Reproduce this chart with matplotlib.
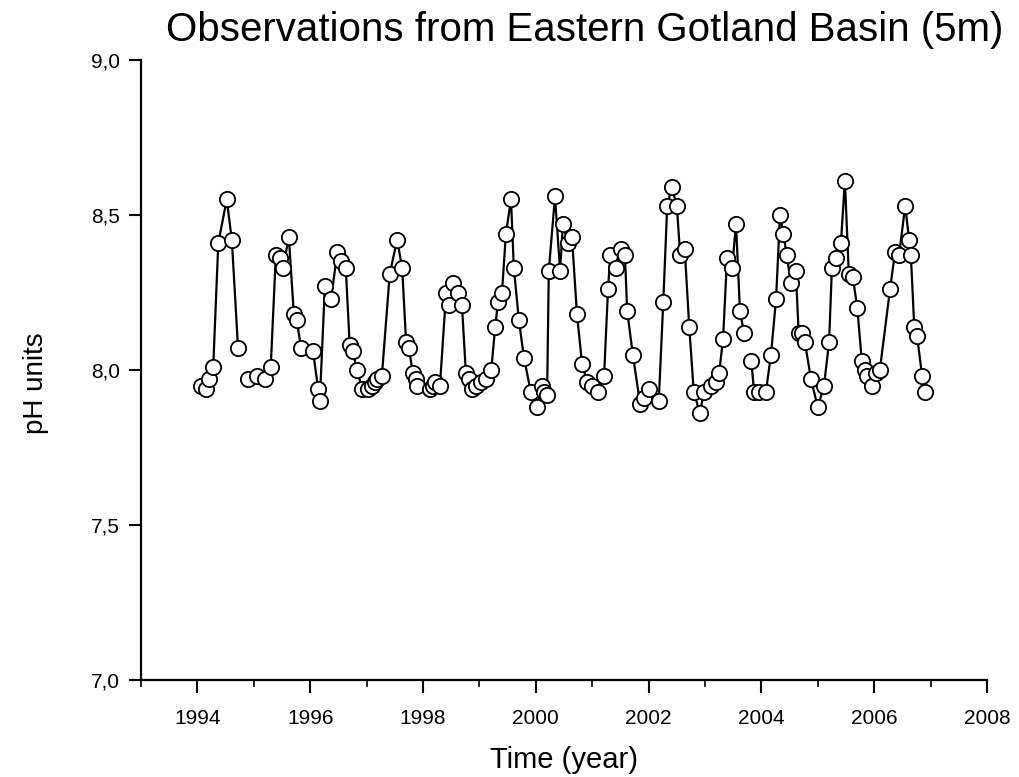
import numpy as np
import matplotlib.pyplot as plt
from matplotlib.ticker import MultipleLocator, FuncFormatter

plt.rcParams['font.family'] = ['Liberation Sans', 'DejaVu Sans']

# Sampling times (decimal year) and surface pH, Eastern Gotland Basin, 5 m
time_year = [
    1994.06, 1994.15, 1994.20, 1994.28, 1994.37, 1994.52, 1994.61, 1994.72,
    1994.90, 1995.06, 1995.20, 1995.30, 1995.39, 1995.46, 1995.52, 1995.62,
    1995.71, 1995.76, 1995.84, 1996.05, 1996.14, 1996.17, 1996.26, 1996.37,
    1996.48, 1996.55, 1996.63, 1996.70, 1996.75, 1996.83, 1996.92, 1997.02,
    1997.10, 1997.15, 1997.19, 1997.27, 1997.41, 1997.54, 1997.63, 1997.70,
    1997.75, 1997.82, 1997.87, 1997.90, 1998.12, 1998.17, 1998.21, 1998.30,
    1998.41, 1998.46, 1998.53, 1998.62, 1998.69, 1998.76, 1998.82, 1998.87,
    1998.94, 1999.02, 1999.12, 1999.21, 1999.28, 1999.33, 1999.40, 1999.47,
    1999.56, 1999.61, 1999.70, 1999.79, 1999.91, 2000.02, 2000.11, 2000.15,
    2000.20, 2000.23, 2000.34, 2000.43, 2000.48, 2000.57, 2000.64, 2000.73,
    2000.82, 2000.91, 2001.00, 2001.10, 2001.21, 2001.28, 2001.32, 2001.42,
    2001.51, 2001.58, 2001.62, 2001.72, 2001.85, 2001.92, 2002.01, 2002.18,
    2002.26, 2002.33, 2002.41, 2002.50, 2002.56, 2002.64, 2002.72, 2002.80,
    2002.91, 2002.98, 2003.10, 2003.20, 2003.25, 2003.32, 2003.39, 2003.48,
    2003.55, 2003.62, 2003.69, 2003.82, 2003.87, 2003.96, 2004.08, 2004.17,
    2004.26, 2004.33, 2004.39, 2004.45, 2004.52, 2004.61, 2004.66, 2004.72,
    2004.77, 2004.88, 2005.00, 2005.11, 2005.20, 2005.25, 2005.32, 2005.41,
    2005.48, 2005.55, 2005.62, 2005.70, 2005.78, 2005.83, 2005.88, 2005.96,
    2006.03, 2006.10, 2006.28, 2006.37, 2006.44, 2006.55, 2006.62, 2006.65,
    2006.71, 2006.76, 2006.85, 2006.90,
]
ph = [
    7.95, 7.94, 7.97, 8.01, 8.41, 8.55, 8.42, 8.07,
    7.97, 7.98, 7.97, 8.01, 8.37, 8.36, 8.33, 8.43,
    8.18, 8.16, 8.07, 8.06, 7.94, 7.90, 8.27, 8.23,
    8.38, 8.35, 8.33, 8.08, 8.06, 8.00, 7.94, 7.94,
    7.95, 7.96, 7.97, 7.98, 8.31, 8.42, 8.33, 8.09,
    8.07, 7.99, 7.97, 7.95, 7.94, 7.95, 7.96, 7.95,
    8.25, 8.21, 8.28, 8.25, 8.21, 7.99, 7.97, 7.94,
    7.95, 7.96, 7.97, 8.00, 8.14, 8.22, 8.25, 8.44,
    8.55, 8.33, 8.16, 8.04, 7.93, 7.88, 7.95, 7.93,
    7.92, 8.32, 8.56, 8.32, 8.47, 8.41, 8.43, 8.18,
    8.02, 7.96, 7.95, 7.93, 7.98, 8.26, 8.37, 8.33,
    8.39, 8.37, 8.19, 8.05, 7.89, 7.91, 7.94, 7.90,
    8.22, 8.53, 8.59, 8.53, 8.37, 8.39, 8.14, 7.93,
    7.86, 7.93, 7.95, 7.96, 7.99, 8.10, 8.36, 8.33,
    8.47, 8.19, 8.12, 8.03, 7.93, 7.93, 7.93, 8.05,
    8.23, 8.50, 8.44, 8.37, 8.28, 8.32, 8.12, 8.12,
    8.09, 7.97, 7.88, 7.95, 8.09, 8.33, 8.36, 8.41,
    8.61, 8.31, 8.30, 8.20, 8.03, 8.00, 7.98, 7.95,
    7.99, 8.00, 8.26, 8.38, 8.37, 8.53, 8.42, 8.37,
    8.14, 8.11, 7.98, 7.93,
]
# cruises after which the series has a gap (line not drawn across)
gap_after = [1994.72, 2003.69]

t = np.array(time_year)
y = np.array(ph)
idx = [int(np.argmin(np.abs(t - g))) + 1 for g in gap_after]
t_line = np.insert(t, idx, np.nan)
y_line = np.insert(y, idx, np.nan)

fig = plt.figure(figsize=(10.19, 7.77), dpi=100)
ax = fig.add_axes([0.1384, 0.1248, 0.8302, 0.798])

ax.plot(t_line, y_line, color='black', linewidth=1.6, zorder=2)
ax.plot(t, y, linestyle='none', marker='o', markersize=11,
        markerfacecolor='white', markeredgecolor='black',
        markeredgewidth=1.3, zorder=3)

ax.set_xlim(1993, 2008)
ax.set_ylim(7.0, 9.0)

ax.spines['top'].set_visible(False)
ax.spines['right'].set_visible(False)
ax.spines['left'].set_linewidth(1.6)
ax.spines['bottom'].set_linewidth(1.6)

ax.xaxis.set_major_locator(MultipleLocator(2))
ax.xaxis.set_major_formatter(FuncFormatter(lambda v, p: f"{int(v)}" if v >= 1994 else ""))
ax.xaxis.set_minor_locator(MultipleLocator(1))
ax.yaxis.set_major_locator(MultipleLocator(0.5))
ax.yaxis.set_major_formatter(FuncFormatter(lambda v, p: f"{v:.1f}".replace('.', ',')))

ax.tick_params(axis='both', which='major', direction='out', length=9, width=1.5,
               labelsize=15)
ax.tick_params(axis='x', which='major', pad=12)
ax.tick_params(axis='y', which='major', pad=6)
ax.tick_params(axis='x', which='minor', direction='out', length=5, width=1.2)

fig.text(0.553, 0.022, 'Time (year)', fontsize=21, ha='center', va='center')
fig.text(0.035, 0.507, 'pH units', fontsize=20, ha='center', va='center',
         rotation=90)
fig.text(0.574, 0.962, 'Observations from Eastern Gotland Basin (5m)',
         fontsize=29, ha='center', va='center')

fig.savefig('out.png', dpi=100)
